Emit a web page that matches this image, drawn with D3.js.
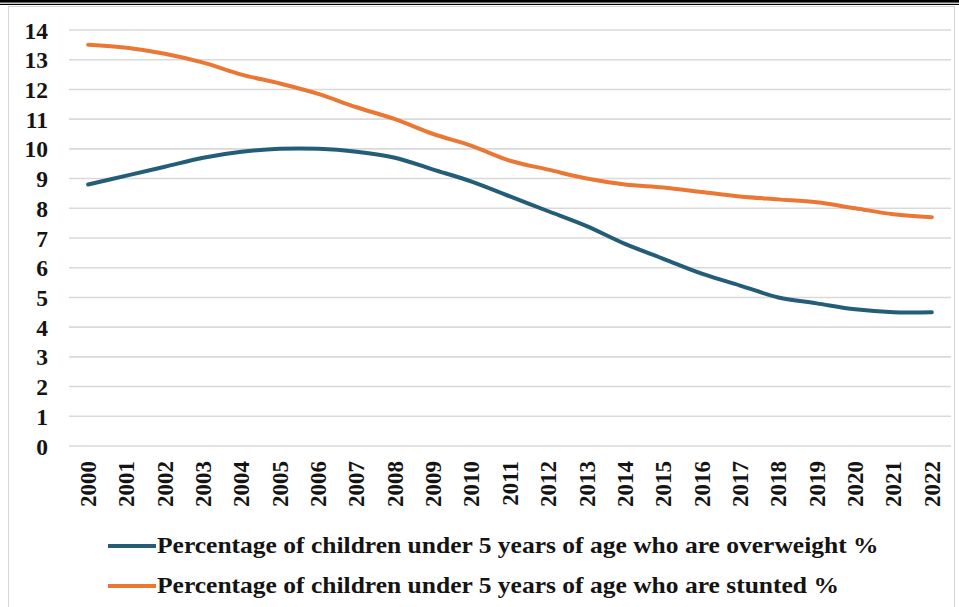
<!DOCTYPE html>
<html>
<head>
<meta charset="utf-8">
<script src="https://cdn.jsdelivr.net/npm/d3@7"></script>
<style>
  html, body { margin: 0; padding: 0; background: #fff; }
  svg { display: block; }
  svg text { font-family: 'Liberation Serif', serif; font-weight: bold; }
</style>
</head>
<body>
<svg id="chart" width="959" height="607"></svg>
<script>
// Years on the category axis
const years = ["2000","2001","2002","2003","2004","2005","2006","2007","2008","2009","2010",
               "2011","2012","2013","2014","2015","2016","2017","2018","2019","2020","2021","2022"];

// Percentage of children under 5 who are overweight
const overweight = [8.8, 9.1, 9.4, 9.7, 9.9, 10.0, 10.0, 9.9, 9.7, 9.3, 8.9,
                    8.4, 7.9, 7.4, 6.8, 6.3, 5.8, 5.4, 5.0, 4.8, 4.6, 4.5, 4.5];

// Percentage of children under 5 who are stunted
const stunted = [13.5, 13.4, 13.2, 12.9, 12.5, 12.2, 11.85, 11.4, 11.0, 10.5, 10.1,
                 9.6, 9.3, 9.0, 8.8, 8.7, 8.55, 8.4, 8.3, 8.2, 8.0, 7.8, 7.7];

// Y-axis tick values
const yTicks = [0, 1, 2, 3, 4, 5, 6, 7, 8, 9, 10, 11, 12, 13, 14];

const seriesNames = [
  "Percentage of children under 5 years of age who are overweight %",
  "Percentage of children under 5 years of age who are stunted %"
];
const seriesColors = ["#245d78", "#ea7834"];

const FONT = "'Liberation Serif', serif";
const INK = "#141414";

const svg = d3.select("#chart");

// Frame: double rule across the top, light border around the chart
svg.append("rect").attr("x", 0).attr("y", 0).attr("width", 959).attr("height", 2.6).attr("fill", "#000");
svg.append("rect").attr("x", 0).attr("y", 3.8).attr("width", 959).attr("height", 1.2).attr("fill", "#000");
svg.append("rect").attr("x", 8.5).attr("y", 6.5).attr("width", 946).attr("height", 620)
  .attr("fill", "none").attr("stroke", "#d6d6d6").attr("stroke-width", 1);

const x = d3.scaleBand().domain(years).range([69, 951]).padding(0);
const y = d3.scaleLinear().domain([0, 14]).range([446, 30]);

// Horizontal gridlines
svg.append("g")
  .selectAll("line")
  .data(yTicks)
  .join("line")
  .attr("x1", x.range()[0]).attr("x2", x.range()[1])
  .attr("y1", d => y(d)).attr("y2", d => y(d))
  .attr("stroke", "#d9d9d9").attr("stroke-width", 1.6);

// Y axis labels
const yAxis = d3.axisLeft(y).tickValues(yTicks).tickSize(0).tickPadding(0);
svg.append("g")
  .attr("transform", "translate(48,0)")
  .call(yAxis)
  .call(g => g.select(".domain").remove())
  .call(g => g.selectAll("text")
    .style("font-family", FONT)
    .style("font-weight", "bold")
    .style("font-size", "23.5px")
    .attr("fill", INK)
    .attr("dy", "0.34em"));

// X axis labels, rotated
const xAxis = d3.axisBottom(x).tickSize(0).tickPadding(0);
svg.append("g")
  .attr("transform", "translate(0,461)")
  .call(xAxis)
  .call(g => g.select(".domain").remove())
  .call(g => g.selectAll("text")
    .style("font-family", FONT)
    .style("font-weight", "bold")
    .style("font-size", "23px")
    .attr("fill", INK)
    .attr("text-anchor", "end")
    .attr("transform", "rotate(-90)")
    .attr("x", 0).attr("y", 0)
    .attr("dy", "0.34em"));

// Smoothed series lines
const line = d3.line()
  .x((d, i) => x(years[i]) + x.bandwidth() / 2)
  .y(d => y(d))
  .curve(d3.curveCatmullRom.alpha(0.5));

[overweight, stunted].forEach((vals, k) => {
  svg.append("path")
    .datum(vals)
    .attr("d", line)
    .attr("fill", "none")
    .attr("stroke", seriesColors[k])
    .attr("stroke-width", 4)
    .attr("stroke-linecap", "round")
    .attr("stroke-linejoin", "round");
});

// Legend
const legend = svg.append("g");
const legendRows = [546, 586];
seriesNames.forEach((name, k) => {
  const ly = legendRows[k];
  legend.append("line")
    .attr("x1", 108).attr("x2", 156)
    .attr("y1", ly).attr("y2", ly)
    .attr("stroke", seriesColors[k]).attr("stroke-width", 3.8);
  legend.append("text")
    .style("font-family", FONT)
    .style("font-weight", "bold")
    .style("font-size", "23px")
    .attr("fill", INK)
    .attr("x", 0).attr("y", 0)
    .attr("transform", `translate(157,${ly + 7}) scale(1.11,1)`)
    .text(name);
});
</script>
</body>
</html>
